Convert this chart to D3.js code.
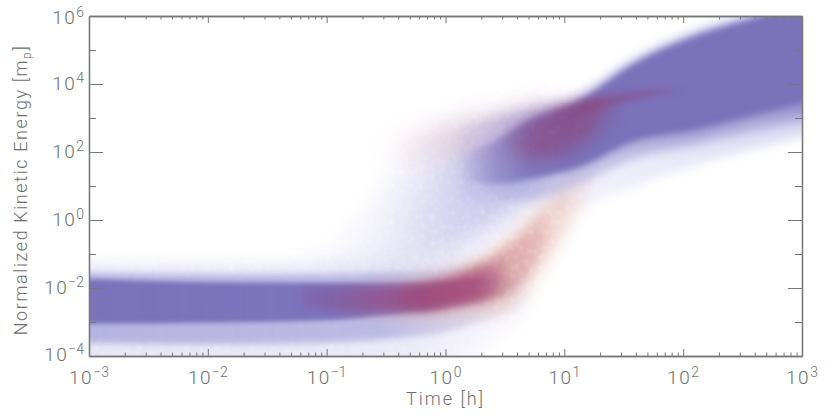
<!DOCTYPE html>
<html><head><meta charset="utf-8">
<script src="https://cdn.jsdelivr.net/npm/d3@7"></script>
<style>
html,body{margin:0;background:#fff}
svg{display:block}
text{font-family:Roboto,"Liberation Sans",Arial,sans-serif;font-weight:300;fill:#6f6f6f}
</style></head><body><div id="c"></div>
<script>
// Values are log10 of the axis quantities
const xMajorExp=[-3,-2,-1,0,1,2,3];
const yMajorExp=[-4,-2,0,2,4,6];
const yMinorExp=[-3,-1,1,3,5];

// early flat population
const earlyT=[-3.2,-2,-1,-0.5,0,0.3,0.55,0.75];
const earlyFaintHi=[-1.3,-1.3,-1.25,-1.2,-1.1,-0.9,-0.5,-0.2];
const earlyFaintLo=[-4.5,-4.5,-4.5,-4.4,-4.2,-3.8,-3.2,-2.6];
const earlyMidHi=[-1.55,-1.6,-1.6,-1.55,-1.45,-1.25,-1.0,-0.7];
const earlyMidLo=[-3.6,-3.65,-3.6,-3.5,-3.3,-3.0,-2.7,-2.3];
const earlyCoreHi=[-1.72,-1.83,-1.85,-1.85,-1.8,-1.7,-1.6,-1.5];
const earlyCoreLo=[-3.05,-3.02,-2.95,-2.8,-2.6,-2.4,-2.2,-2.0];

// late rising population
const lateT=[0.1,0.4,0.71,1.13,1.55,2.12,2.63,3.2];
const lateFaintHi=[2.6,3.0,3.25,3.75,4.7,5.6,6.1,6.7];
const lateFaintLo=[0.7,0.6,0.6,1.05,1.75,2.2,2.6,3.0];
const lateCoreHi=[1.8,2.3,2.95,3.53,4.53,5.44,5.98,6.6];
const lateCoreLo=[1.2,1.05,1.2,1.56,2.26,2.65,3.09,3.55];
const lateLowT=[1.0,1.5,2.1,2.6,3.2];
const lateLowHi=[1.7,2.4,2.8,3.2,3.6];
const lateLowLo=[1.3,2.0,2.4,2.85,3.2];

// thin scatter between the populations
const cloudT=[-1.3,-0.9,-0.6,-0.3,0,0.3,0.6,0.9];
const cloudHi=[-1.4,-0.7,0.5,2.0,2.75,3.0,3.2,3.5];
const cloudLo=[-1.5,-1.7,-1.7,-1.5,-1.2,-0.6,0.2,0.9];
const cloudInnerT=[-0.6,-0.3,0,0.3,0.6,0.8];
const cloudInnerHi=[-1.2,0.3,1.7,2.5,2.95,3.1];
const cloudInnerLo=[-1.4,-1.3,-0.9,-0.2,0.5,1.1];

// faint lower tail of the late population
const tailT=[0.9,1.2,1.6,2,2.5,3.2];
const tailHi=[1.4,1.7,2.2,2.6,3.0,3.6];
const tailLo=[0.2,0.5,1.0,1.5,2.0,2.6];

// red: rising lower branch and dense spots
const redLowT=[-1.0,-0.4,0,0.3,0.55,0.8,1.02,1.2];
const redLowHi=[-1.8,-1.8,-1.45,-1.1,-0.45,0.4,1.1,1.6];
const redLowLo=[-2.7,-2.9,-2.9,-2.8,-2.6,-1.5,-0.3,0.6];
const redMidT=[-0.4,0,0.25,0.45,0.65,0.85];
const redMidHi=[-1.9,-1.7,-1.3,-0.95,-0.4,0.3];
const redMidLo=[-2.6,-2.6,-2.45,-2.3,-1.8,-0.7];
const redCoreT=[-1.2,-0.6,-0.2,0.1,0.35,0.5];
const redCoreHi=[-2.0,-1.95,-1.85,-1.65,-1.4,-1.2];
const redCoreLo=[-2.6,-2.7,-2.7,-2.5,-2.3,-2.05];
const redHighT=[0.5,0.75,1.0,1.25,1.45];
const redHighHi=[2.6,3.05,3.35,3.55,3.6];
const redHighLo=[1.9,1.75,1.95,2.5,3.1];
const redRidgeT=[0.9,1.3,1.6,2.0];
const redRidgeHi=[3.35,3.62,3.78,3.88];
const redRidgeLo=[2.9,3.25,3.55,3.72];
const redFanT=[-0.5,-0.1,0.3,0.7,0.95];
const redFanHi=[2.3,2.75,3.05,3.3,3.5];
const redFanLo=[1.9,1.8,1.8,1.8,2.6];

const W=830,H=418,L=89,R=802,T=16,B=356;
const x=d3.scaleLog().domain([1e-3,1e3]).range([L,R]);
const y=d3.scaleLog().domain([1e-4,1e6]).range([B,T]);
const svg=d3.select("#c").append("svg").attr("width",W).attr("height",H);
const defs=svg.append("defs");
defs.append("clipPath").attr("id","plot").append("rect").attr("x",L).attr("y",T).attr("width",R-L).attr("height",B-T);

function filt(id,sd,grain){
  const f=defs.append("filter").attr("id",id).attr("filterUnits","userSpaceOnUse")
    .attr("x",0).attr("y",0).attr("width",W).attr("height",H).attr("color-interpolation-filters","sRGB");
  f.append("feGaussianBlur").attr("in","SourceGraphic").attr("stdDeviation",sd).attr("result","b");
  if(grain){
    f.append("feTurbulence").attr("type","fractalNoise").attr("baseFrequency",0.2).attr("numOctaves",2).attr("seed",7);
    f.append("feColorMatrix").attr("values",`0 0 0 0 0 0 0 0 0 0 0 0 0 0 0 ${grain} 0 0 0 ${1-grain*0.5}`).attr("result","n");
    f.append("feGaussianBlur").attr("in","n").attr("stdDeviation",0.9).attr("result","n2");
    f.append("feComposite").attr("in","b").attr("in2","n2").attr("operator","in");
  }
}
filt("b2",2); filt("b3",3); filt("b4",4); filt("b5",5);
filt("g5",5,1); filt("g8",8,1); filt("g12",12,1);

function fade(id,color,stops){
  const g=defs.append("linearGradient").attr("id",id).attr("gradientUnits","userSpaceOnUse")
    .attr("x1",0).attr("x2",W).attr("y1",0).attr("y2",0);
  stops.forEach(s=>g.append("stop").attr("offset",s[0]/W).attr("stop-color",color).attr("stop-opacity",s[1]));
  return `url(#${id})`;
}

const plot=svg.append("g").attr("clip-path","url(#plot)");
const area=d3.area().x(d=>x(10**d[0])).y0(d=>y(10**d[1])).y1(d=>y(10**d[2])).curve(d3.curveMonotoneX);
function band(t,lo,hi,color,op,filter){
  plot.append("path").datum(t.map((v,i)=>[v,lo[i],hi[i]]))
    .attr("d",area).attr("fill",color).attr("fill-opacity",op).attr("filter",`url(#${filter})`);
}
const BLUE="#7b72ba",LAV="#a9a6da";

// cloud
band(cloudT,cloudLo,cloudHi,fade("fc","#bdbce8",[[300,.08],[400,.25],[500,.5]]),1,"g12");
band(cloudInnerT,cloudInnerLo,cloudInnerHi,fade("fi","#a9a7e0",[[380,.05],[450,.28],[520,.5]]),1,"g12");
band(redFanT,redFanLo,redFanHi,fade("ff","#d9a2ab",[[360,.06],[440,.25],[540,.35]]),1,"g12");
band(tailT,tailLo,tailHi,fade("ft","#c2c0ea",[[540,.1],[640,.3],[800,.55]]),1,"b5");

// early population
band(earlyT,earlyFaintLo,earlyFaintHi,fade("e0","#b9b6e4",[[80,.35],[400,.3],[560,0]]),1,"g8");
band(earlyT,earlyMidLo,earlyMidHi,fade("e1",LAV,[[80,.8],[380,.7],[530,0]]),1,"b3");
band(earlyT,earlyCoreLo,earlyCoreHi,fade("e2",BLUE,[[80,1],[360,.95],[460,.55],[520,0]]),1,"b2");

// red lower branch
band(redLowT,redLowLo,redLowHi,fade("r0","#dc9a8c",[[330,0],[430,.4],[560,.4],[590,.1]]),1,"g8");
band(redMidT,redMidLo,redMidHi,fade("r1","#c96a72",[[390,.1],[470,.5],[530,.3],[570,0]]),1,"g5");
band(redCoreT,redCoreLo,redCoreHi,fade("r2","#8e2667",[[260,0],[350,.3],[420,.6],[480,.5],[510,.05]]),1,"b5");

// late population
band(lateT,lateFaintLo,lateFaintHi,fade("l0",LAV,[[460,.15],[520,.55],[800,.75]]),1,"b5");
band(lateT,lateCoreLo,lateCoreHi,fade("l1",BLUE,[[460,0],[495,.55],[530,.9],[570,1]]),1,"b3");
band(lateLowT,lateLowLo,lateLowHi,fade("l2",BLUE,[[560,.2],[800,.4]]),1,"b4");

// red over the late population
band(redHighT,redHighLo,redHighHi,fade("h0","#92305f",[[490,0],[540,.48],[590,.42],[625,0]]),1,"g8");
band(redRidgeT,redRidgeLo,redRidgeHi,fade("h1","#96355f",[[530,0],[590,.35],[640,.35],[690,0]]),1,"b3");

// axes
const minorX=[];
for(let e=-3;e<3;e++) for(let m=2;m<10;m++) minorX.push(m*10**e);
const col="#777";
function frame(g){g.selectAll(".domain").attr("stroke",col).attr("stroke-width",1.3);g.selectAll("line").attr("stroke",col);g.selectAll("text").remove();}
const val=e=>10**e;
svg.append("g").attr("transform",`translate(0,${B})`).call(d3.axisBottom(x).tickValues(xMajorExp.map(val)).tickSize(-7).tickSizeOuter(0)).call(frame);
svg.append("g").attr("transform",`translate(0,${B})`).call(d3.axisBottom(x).tickValues(minorX).tickSize(-3.5).tickSizeOuter(0)).call(frame);
svg.append("g").attr("transform",`translate(0,${T})`).call(d3.axisTop(x).tickValues(xMajorExp.map(val)).tickSize(-7).tickSizeOuter(0)).call(frame);
svg.append("g").attr("transform",`translate(0,${T})`).call(d3.axisTop(x).tickValues(minorX).tickSize(-3.5).tickSizeOuter(0)).call(frame);
svg.append("g").attr("transform",`translate(${L},0)`).call(d3.axisLeft(y).tickValues(yMajorExp.map(val)).tickSize(-14).tickSizeOuter(0)).call(frame);
svg.append("g").attr("transform",`translate(${L},0)`).call(d3.axisLeft(y).tickValues(yMinorExp.map(val)).tickSize(-7).tickSizeOuter(0)).call(frame);
svg.append("g").attr("transform",`translate(${R},0)`).call(d3.axisRight(y).tickValues(yMajorExp.map(val)).tickSize(-14).tickSizeOuter(0)).call(frame);
svg.append("g").attr("transform",`translate(${R},0)`).call(d3.axisRight(y).tickValues(yMinorExp.map(val)).tickSize(-7).tickSizeOuter(0)).call(frame);

function powerLabel(px,py,e,anchor){
  const t=svg.append("text").attr("x",px).attr("y",py).attr("text-anchor",anchor).attr("font-size",19);
  t.append("tspan").text("10").attr("letter-spacing",1.5);
  t.append("tspan").text(e<0?"\u2212"+(-e):e).attr("dy",-7).attr("font-size",14);
}
xMajorExp.forEach(e=>powerLabel(x(10**e),384,e,"middle"));
yMajorExp.forEach(e=>powerLabel(84,y(10**e)+6+(e==-4?-1:0)+(e==6?2:0),e,"end"));

svg.append("text").attr("x",(L+R)/2).attr("y",405).attr("text-anchor","middle")
  .attr("font-size",18).attr("letter-spacing",2).text("Time [h]");
const yt=svg.append("text").attr("transform",`translate(27,${(T+B)/2+4}) rotate(-90)`).attr("text-anchor","middle")
  .attr("font-size",18).attr("letter-spacing",1.6);
yt.append("tspan").text("Normalized Kinetic Energy [m");
yt.append("tspan").text("p").attr("font-size",12).attr("dy",4);
yt.append("tspan").text("]").attr("dy",-4);
</script></body></html>
